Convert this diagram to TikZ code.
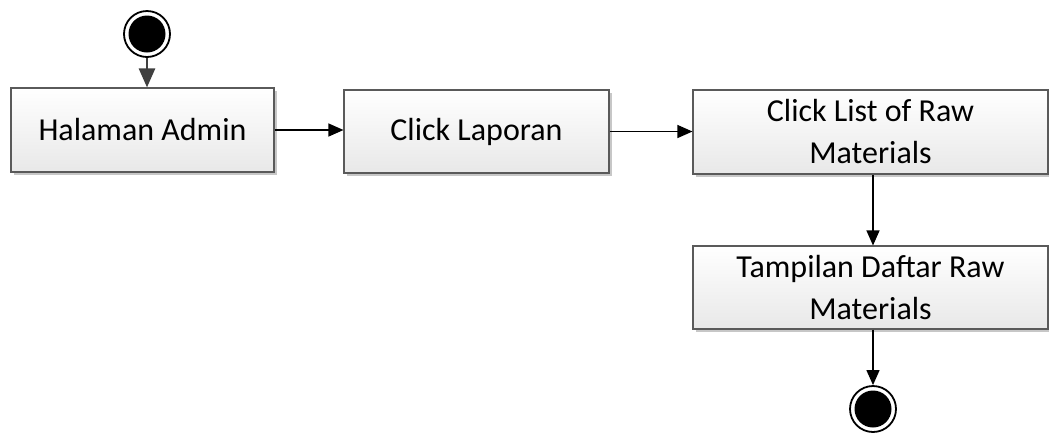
\documentclass[tikz,border=0pt]{standalone}
\usepackage{fontspec}
\setmainfont{Carlito}
\usetikzlibrary{arrows.meta,shadows}
\definecolor{boxline}{HTML}{5A5A5A}
\definecolor{startgray}{HTML}{404040}
\tikzset{
  actbox/.style={rectangle, draw=boxline, line width=1.1pt, top color=white, bottom color=black!9,
    drop shadow={shadow xshift=3pt, shadow yshift=-3pt, fill=black!22, opacity=1},
    inner sep=0pt, align=center, font=\fontsize{32}{42}\selectfont},
  flow/.style={line width=1.2pt, -{Triangle[length=15pt,width=13pt]}},
  startflow/.style={draw=startgray, line width=2.6pt, -{Triangle[length=19pt,width=16pt]}},
  ring/.style={circle, draw=black, line width=1.8pt, fill=white, minimum size=46pt, inner sep=0pt},
}
\begin{document}
\begin{tikzpicture}[x=1pt,y=-1pt]
\useasboundingbox (0,0) rectangle (1049,432);
\node[ring] (start) at (147,34) {};
\fill[black] (start.center) circle (18.5);
\node[actbox, minimum width=263pt, minimum height=84pt] (admin) at (142.5,130) {Halaman Admin};
\node[actbox, minimum width=265pt, minimum height=83pt] (laporan) at (476.5,131.5) {Click Laporan};
\node[actbox, minimum width=355pt, minimum height=84pt] (list) at (870.5,132) {Click List of Raw\\Materials};
\node[actbox, minimum width=355pt, minimum height=83pt] (tampil) at (870.5,287.5) {Tampilan Daftar Raw\\Materials};
\node[ring] (end) at (873,409) {};
\fill[black] (end.center) circle (18.5);
\draw[startflow] (start.south) -- (admin.north -| start);
\draw[flow] (admin.east) -- (admin.east -| laporan.west);
\draw[flow] (laporan.east) -- (laporan.east -| list.west);
\draw[flow] (list.south -| end) -- (tampil.north -| end);
\draw[flow] (tampil.south -| end) -- (end.north);
\end{tikzpicture}
\end{document}
